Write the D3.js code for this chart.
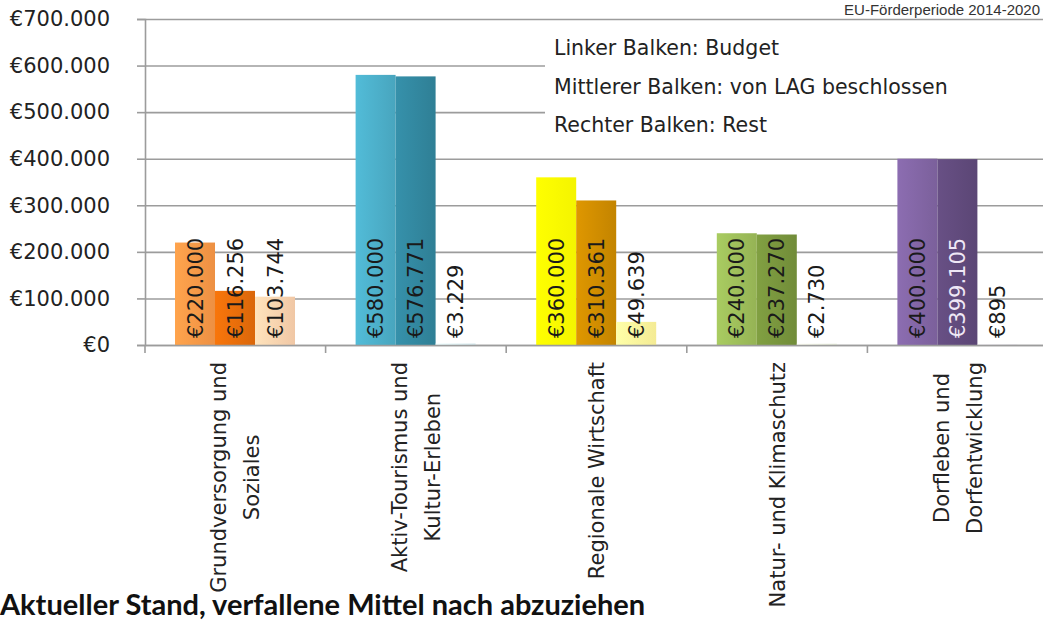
<!DOCTYPE html>
<html>
<head>
<meta charset="utf-8">
<script src="https://cdn.jsdelivr.net/npm/d3@7/dist/d3.min.js"></script>
<style>
  html, body { margin: 0; padding: 0; background: #fff; overflow: hidden; }
  svg { display: block; }
</style>
</head>
<body>
<svg id="chart" width="1043" height="621"></svg>
<script>
// ---- data ----
const categories = [
  ["Grundversorgung und", "Soziales"],
  ["Aktiv-Tourismus und", "Kultur-Erleben"],
  ["Regionale Wirtschaft"],
  ["Natur- und Klimaschutz"],
  ["Dorfleben und", "Dorfentwicklung"]
];
const seriesNames = ["Budget", "von LAG beschlossen", "Rest"];
const budget      = [220000, 580000, 360000, 240000, 400000];
const beschlossen = [116256, 576771, 310361, 237270, 399105];
const rest        = [103744,   3229,  49639,   2730,    895];
const yTicks = [0, 100000, 200000, 300000, 400000, 500000, 600000, 700000];
const noteLines = ["Linker Balken: Budget", "Mittlerer Balken: von LAG beschlossen", "Rechter Balken: Rest"];
const headerText = "EU-Förderperiode 2014-2020";
const captionText = "Aktueller Stand, verfallene Mittel nach abzuziehen";

// colours per category (left, middle, right bar)
const palette = [
  ["#F79646", "#E46C0A", "#FBD0AC"],
  ["#4BACC6", "#31859C", "#DAEEF3"],
  ["#FFFF00", "#CC8A00", "#FFF59A"],
  ["#9BBB59", "#76923C", "#EBF1DE"],
  ["#8064A2", "#5F497A", "#E5E0EC"]
];

(function () {
const series = [budget, beschlossen, rest];
const rows = categories.map((c, i) => ({ i, lines: c, values: series.map(s => s[i]) }));

const de = d3.formatLocale({ decimal: ",", thousands: ".", grouping: [3], currency: ["€", ""] });
const fmt = de.format("$,.0f");

const svg = d3.select("#chart");
const mLeft = 145, mTop = 19, mBottom = 345, bandW = 180.6;
const mRight = mLeft + bandW * categories.length;

const x = d3.scaleBand().domain(d3.range(categories.length)).range([mLeft, mRight]).padding(0);
const xs = d3.scaleBand().domain(d3.range(series.length)).range([30, 30 + 40 * 3]).padding(0);
const y = d3.scaleLinear().domain([0, 700000]).range([mBottom, mTop]);

const numFont = "DejaVu Sans, sans-serif";

// gradients
const defs = svg.append("defs");
palette.forEach((cols, ci) => cols.forEach((col, si) => {
  const g = defs.append("linearGradient").attr("id", `g${ci}_${si}`)
    .attr("x1", "0").attr("x2", "1").attr("y1", "0").attr("y2", "0");
  const c = d3.color(col);
  g.append("stop").attr("offset", "0%").attr("stop-color", c.brighter(0.25));
  g.append("stop").attr("offset", "100%").attr("stop-color", c.darker(0.12));
}));

// gridlines
svg.append("g").attr("class", "grid")
  .attr("transform", `translate(${mLeft},0)`)
  .call(d3.axisLeft(y).tickValues(yTicks).tickSize(-(mRight - mLeft)).tickFormat(""))
  .call(g => g.select(".domain").remove())
  .call(g => g.selectAll("line").attr("stroke", "#9c9c9c").attr("stroke-width", 1.6));

// note box (covers gridlines)
svg.append("rect").attr("x", 545).attr("y", 26).attr("width", 520).attr("height", 118).attr("fill", "#fff");
svg.append("g").selectAll("text").data(noteLines).join("text")
  .attr("x", 554).attr("y", (d, i) => 55 + i * 38.5)
  .attr("font-family", numFont).attr("font-size", 20.5).attr("fill", "#222")
  .text(d => d);

// header text
svg.append("text").attr("x", 1040).attr("y", 15).attr("text-anchor", "end")
  .attr("font-family", "Liberation Sans, Arial, sans-serif").attr("font-size", 15).attr("fill", "#333")
  .text(headerText);

// y axis
svg.append("g").attr("transform", `translate(${mLeft},0)`)
  .call(d3.axisLeft(y).tickValues(yTicks).tickSize(8).tickPadding(27).tickFormat(fmt))
  .call(g => g.select(".domain").attr("stroke", "#9c9c9c").attr("stroke-width", 1.6))
  .call(g => g.selectAll(".tick line").attr("stroke", "#9c9c9c").attr("stroke-width", 1.6))
  .call(g => g.selectAll(".tick text").attr("font-family", numFont).attr("font-size", 21).attr("fill", "#222"));

// bars
const groups = svg.append("g").selectAll("g").data(rows).join("g")
  .attr("transform", d => `translate(${x(d.i)},0)`);
groups.selectAll("rect").data(d => d.values.map((v, s) => ({ v, s, c: d.i }))).join("rect")
  .attr("x", d => xs(d.s)).attr("width", xs.bandwidth())
  .attr("y", d => y(d.v)).attr("height", d => y(0) - y(d.v))
  .attr("fill", d => `url(#g${d.c}_${d.s})`);

// x axis
svg.append("g").attr("transform", `translate(0,${mBottom})`)
  .call(d3.axisBottom(x).tickValues([]).tickSizeOuter(0))
  .call(g => g.select(".domain").attr("stroke", "#9c9c9c").attr("stroke-width", 1.6));
svg.append("g").selectAll("line").data(d3.range(categories.length + 1)).join("line")
  .attr("x1", i => mLeft + i * x.step()).attr("x2", i => mLeft + i * x.step())
  .attr("y1", mBottom).attr("y2", mBottom + 8)
  .attr("stroke", "#9c9c9c").attr("stroke-width", 1.6);

// value labels
function lum(col) { const c = d3.rgb(col); return 0.3 * c.r + 0.59 * c.g + 0.11 * c.b; }
groups.selectAll("text.val").data(d => d.values.map((v, s) => ({ v, s, c: d.i }))).join("text")
  .attr("class", "val")
  .attr("transform", d => `translate(${xs(d.s) + xs.bandwidth() / 2},338) rotate(-90)`)
  .attr("dy", "0.36em")
  .attr("font-family", numFont).attr("font-size", 21)
  .attr("fill", d => (d.s < 2 && lum(palette[d.c][d.s]) < 100) ? "#efe8f6" : "#1a1a1a")
  .text(d => fmt(d.v));

// category labels
const catG = svg.append("g").selectAll("g").data(rows).join("g");
catG.each(function (d) {
  const g = d3.select(this);
  const cx = x(d.i) + x.bandwidth() / 2;
  const texts = g.selectAll("text").data(d.lines).join("text")
    .attr("font-family", numFont).attr("font-size", 21).attr("fill", "#222")
    .attr("text-anchor", "middle").attr("dy", "0.36em")
    .text(t => t);
  let maxLen = 0;
  texts.each(function () { maxLen = Math.max(maxLen, this.getComputedTextLength()); });
  const n = d.lines.length;
  texts.attr("transform", (t, k) => `translate(${cx + (k - (n - 1) / 2) * 33},${362 + maxLen / 2}) rotate(-90)`);
});

// caption
svg.append("text").attr("x", 0).attr("y", 615)
  .attr("font-family", "Lato, sans-serif").attr("font-weight", "bold").attr("font-size", 29).attr("fill", "#111")
  .text(captionText);
})();
</script>
</body>
</html>
